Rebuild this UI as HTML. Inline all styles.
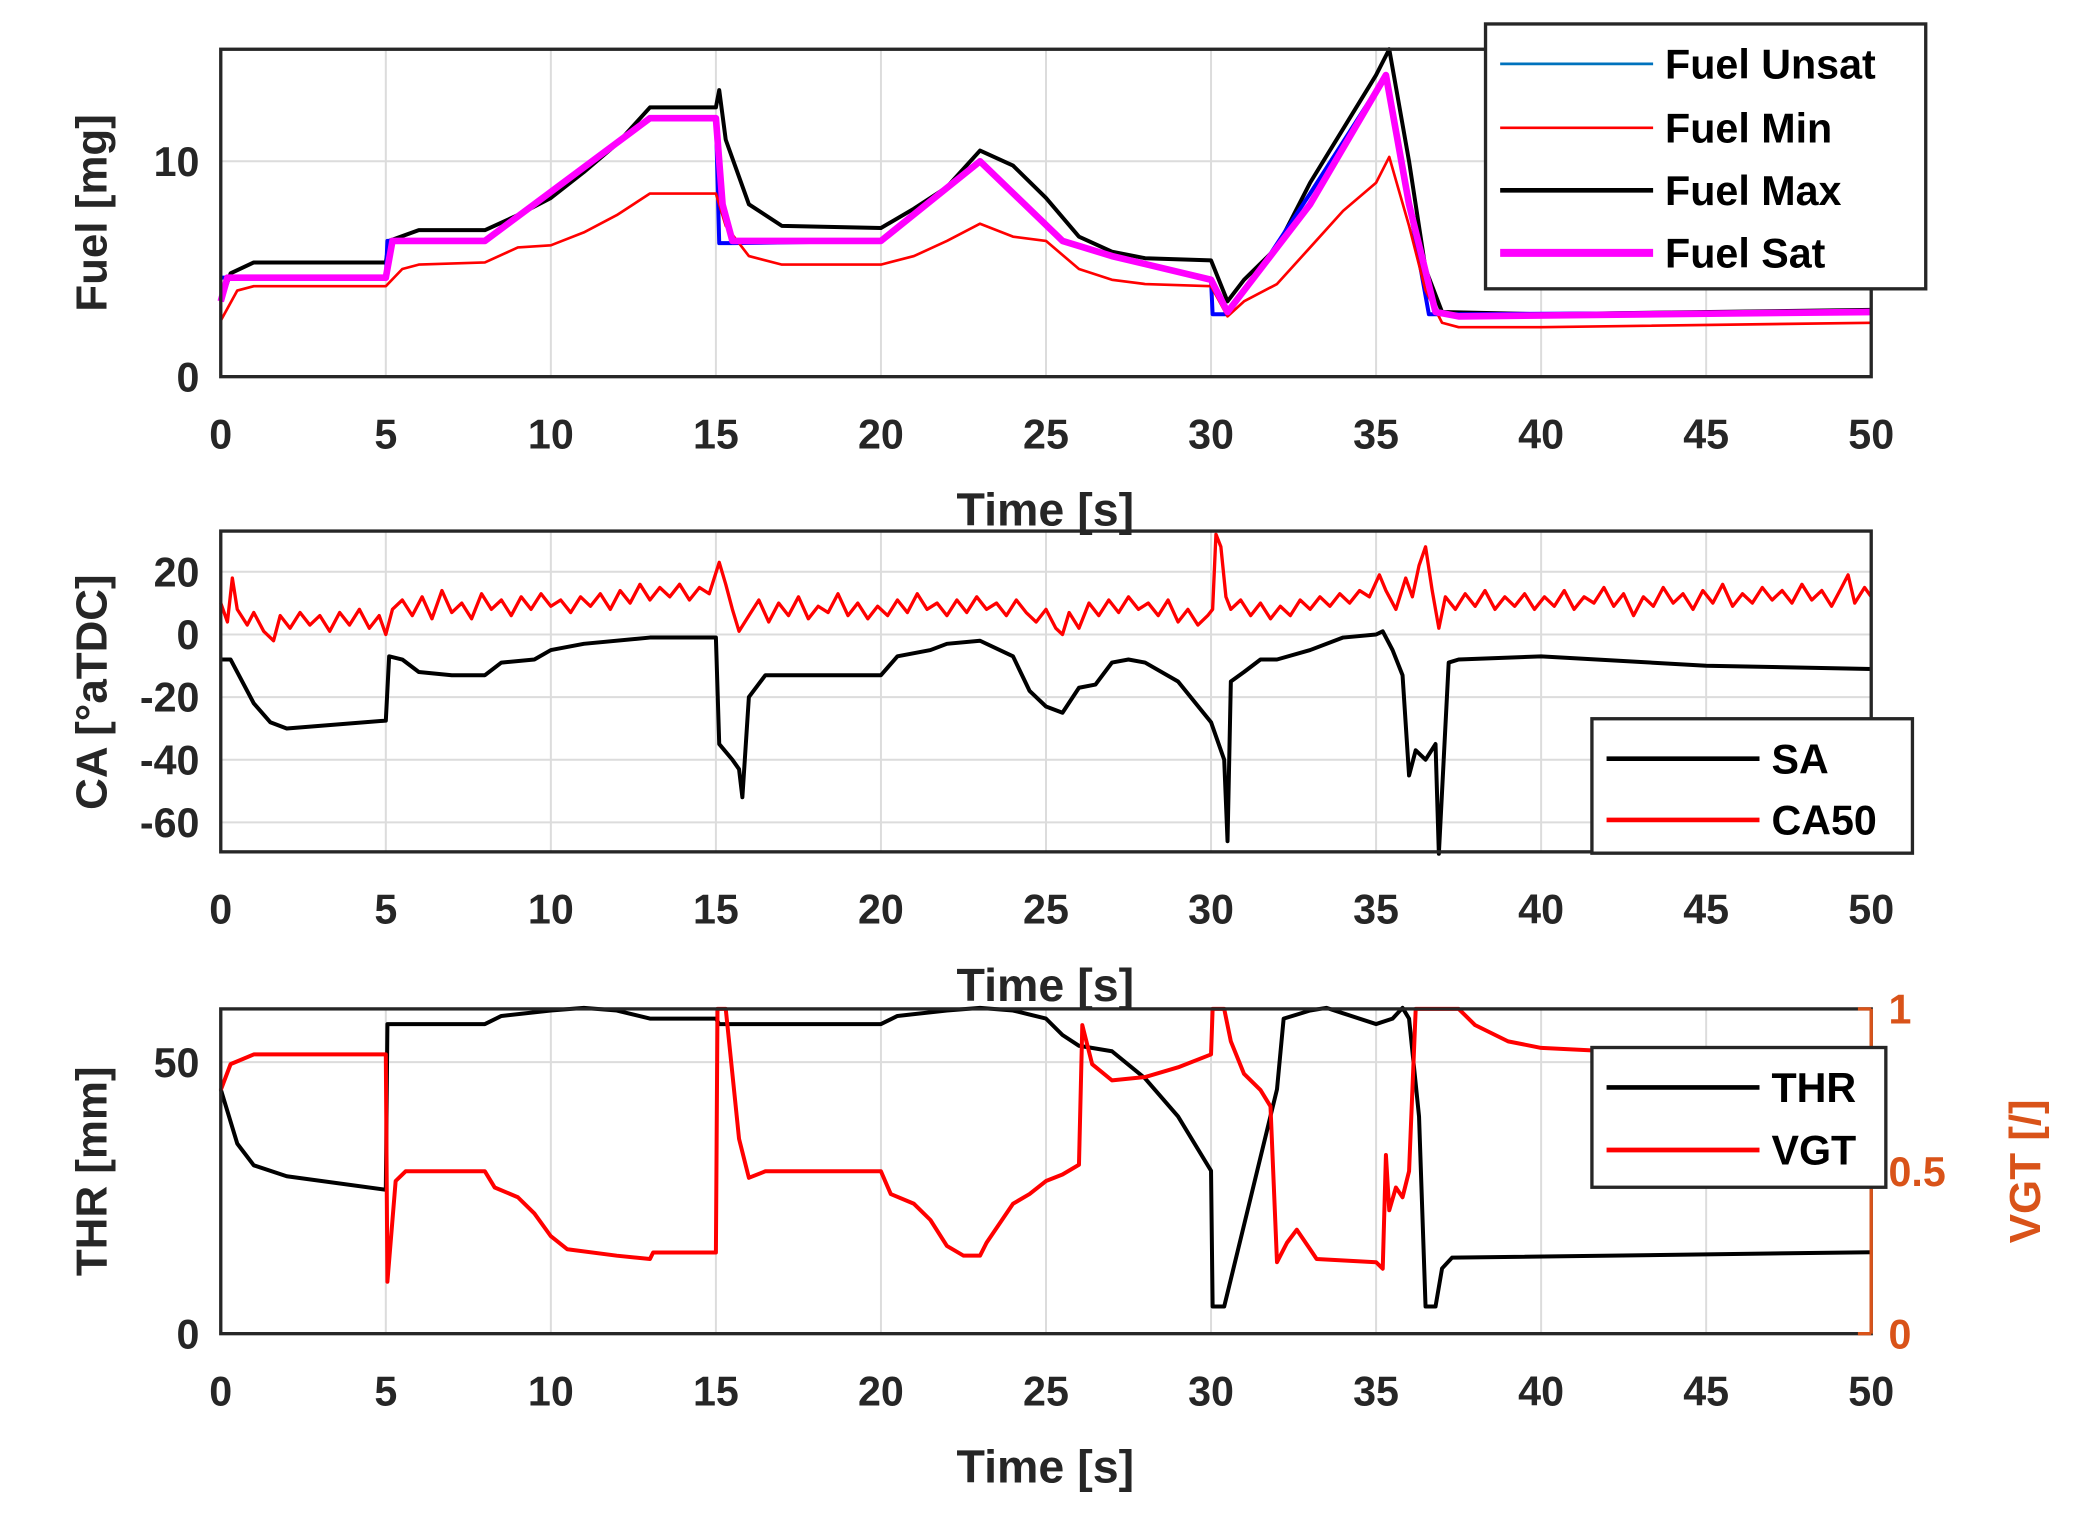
<!DOCTYPE html>
<html><head><meta charset="utf-8"><style>
html,body{margin:0;padding:0;background:#fff;}
svg{display:block;}
text{font-family:"Liberation Sans",Arial,sans-serif;font-weight:bold;fill:#262626;}
</style></head><body>
<svg id="fig" width="2084" height="1528" viewBox="0 0 1567 1148" preserveAspectRatio="none" xmlns="http://www.w3.org/2000/svg"></svg>
<script>
const xTicks=[0,5,10,15,20,25,30,35,40,45,50];
const fuelTicks=[0,10];
const caTicks=[20,0,-20,-40,-60];
const thrTicks=[0,50];
const vgtTicks=[0,0.5,1];

const fuelMax=[[0,3.5],[0.3,4.8],[1,5.3],[5,5.3],[5.1,6.3],[6,6.8],[8,6.8],[9,7.5],[10,8.3],[11,9.5],[12,10.8],[13,12.5],[15,12.5],[15.1,13.3],[15.3,11],[16,8],[17,7],[20,6.9],[21,7.8],[22,8.8],[23,10.5],[24,9.8],[25,8.3],[26,6.5],[27,5.8],[28,5.5],[30,5.4],[30.5,3.5],[31,4.5],[32,6],[33,9],[34,11.5],[35,14],[35.4,15.2],[36,10],[36.5,5],[37,3],[40,2.9],[50,3.1]];
const fuelUnsat=[[0,4.6],[5,4.6],[5.05,6.3],[8,6.3],[13,12],[15,12],[15.1,6.2],[15.5,6.2],[20,6.3],[23,10],[25.5,6.3],[27,5.6],[30,4.5],[30.05,2.9],[30.5,2.9],[31.5,5],[33,8.5],[35.3,14],[36,8],[36.6,2.9],[37.5,2.9],[50,3]];
const fuelMin=[[0,2.6],[0.5,4],[1,4.2],[5,4.2],[5.5,5],[6,5.2],[8,5.3],[9,6],[10,6.1],[11,6.7],[12,7.5],[13,8.5],[15,8.5],[15.3,7],[16,5.6],[17,5.2],[20,5.2],[21,5.6],[22,6.3],[23,7.1],[24,6.5],[25,6.3],[26,5],[27,4.5],[28,4.3],[30,4.2],[30.5,2.8],[31,3.5],[32,4.3],[33,6],[34,7.7],[35,9],[35.4,10.2],[36,7],[36.5,4],[37,2.5],[37.5,2.3],[40,2.3],[50,2.5]];
const fuelSat=[[0,3.5],[0.2,4.6],[5,4.6],[5.2,6.3],[8,6.3],[13,12],[15,12],[15.2,8],[15.5,6.3],[20,6.3],[23,10],[25.5,6.3],[27,5.6],[30,4.5],[30.5,3],[31.5,5],[33,8],[35.3,14],[36,8],[36.8,3],[37.5,2.8],[50,3]];

const saVals=[[0,-8],[0.3,-8],[1,-22],[1.5,-28],[2,-30],[5,-27.5],[5.1,-7],[5.5,-8],[6,-12],[7,-13],[8,-13],[8.5,-9],[9.5,-8],[10,-5],[11,-3],[13,-1],[15,-1],[15.1,-35],[15.5,-40],[15.7,-43],[15.8,-52],[16,-20],[16.5,-13],[20,-13],[20.5,-7],[21.5,-5],[22,-3],[23,-2],[24,-7],[24.5,-18],[25,-23],[25.5,-25],[26,-17],[26.5,-16],[27,-9],[27.5,-8],[28,-9],[29,-15],[30,-28],[30.4,-40],[30.5,-66],[30.6,-15],[31,-12],[31.5,-8],[32,-8],[33,-5],[34,-1],[35,0],[35.2,1],[35.5,-5],[35.8,-13],[36,-45],[36.2,-37],[36.5,-40],[36.8,-35],[36.9,-70],[37.2,-9],[37.5,-8],[40,-7],[45,-10],[50,-11]];
const ca50Vals=[[0,10],[0.2,4],[0.35,18],[0.5,8],[0.8,3],[1,7],[1.3,1],[1.6,-2],[1.8,6],[2.1,2],[2.4,7],[2.7,3],[3,6],[3.3,1],[3.6,7],[3.9,3],[4.2,8],[4.5,2],[4.8,6],[5,0],[5.2,8],[5.5,11],[5.8,6],[6.1,12],[6.4,5],[6.7,14],[7,7],[7.3,10],[7.6,5],[7.9,13],[8.2,8],[8.5,11],[8.8,6],[9.1,12],[9.4,8],[9.7,13],[10,9],[10.3,11],[10.6,7],[10.9,12],[11.2,9],[11.5,13],[11.8,8],[12.1,14],[12.4,10],[12.7,16],[13,11],[13.3,15],[13.6,12],[13.9,16],[14.2,11],[14.5,15],[14.8,13],[15.1,23],[15.3,16],[15.5,8],[15.7,1],[16,6],[16.3,11],[16.6,4],[16.9,10],[17.2,6],[17.5,12],[17.8,5],[18.1,9],[18.4,7],[18.7,13],[19,6],[19.3,10],[19.6,5],[19.9,9],[20.2,6],[20.5,11],[20.8,7],[21.1,13],[21.4,8],[21.7,10],[22,6],[22.3,11],[22.6,7],[22.9,12],[23.2,8],[23.5,10],[23.8,6],[24.1,11],[24.4,7],[24.7,4],[25,8],[25.3,2],[25.5,0],[25.7,7],[26,2],[26.3,10],[26.6,6],[26.9,11],[27.2,7],[27.5,12],[27.8,8],[28.1,10],[28.4,6],[28.7,11],[29,4],[29.3,8],[29.6,3],[29.9,6],[30.05,8],[30.15,32],[30.3,28],[30.45,12],[30.6,8],[30.9,11],[31.2,6],[31.5,10],[31.8,5],[32.1,9],[32.4,6],[32.7,11],[33,8],[33.3,12],[33.6,9],[33.9,13],[34.2,10],[34.5,14],[34.8,12],[35.1,19],[35.3,14],[35.6,8],[35.9,18],[36.1,12],[36.3,22],[36.5,28],[36.7,14],[36.9,2],[37.1,12],[37.4,8],[37.7,13],[38,9],[38.3,14],[38.6,8],[38.9,12],[39.2,9],[39.5,13],[39.8,8],[40.1,12],[40.4,9],[40.7,14],[41,8],[41.3,12],[41.6,10],[41.9,15],[42.2,9],[42.5,13],[42.8,6],[43.1,12],[43.4,9],[43.7,15],[44,10],[44.3,13],[44.6,8],[44.9,14],[45.2,10],[45.5,16],[45.8,9],[46.1,13],[46.4,10],[46.7,15],[47,11],[47.3,14],[47.6,10],[47.9,16],[48.2,11],[48.5,14],[48.8,9],[49.1,15],[49.3,19],[49.5,10],[49.8,15],[50,12]];

const thrVals=[[0,45],[0.5,35],[1,31],[2,29],[5,26.5],[5.05,57],[8,57],[8.5,58.5],[10,59.5],[11,60],[12,59.5],[13,58],[15,58],[15.1,57],[20,57],[20.5,58.5],[22,59.5],[23,60],[24,59.5],[25,58],[25.5,55],[26,53],[27,52],[28,47],[29,40],[30,30],[30.05,5],[30.4,5],[31,20],[32,45],[32.2,58],[33,59.5],[33.5,60],[34,59],[35,57],[35.5,58],[35.8,60],[36,58],[36.3,40],[36.5,5],[36.8,5],[37,12],[37.3,14],[50,15]];
const vgtVals=[[0,0.75],[0.3,0.83],[1,0.86],[5,0.86],[5.05,0.16],[5.3,0.47],[5.6,0.5],[8,0.5],[8.3,0.45],[9,0.42],[9.5,0.37],[10,0.3],[10.5,0.26],[12,0.24],[13,0.23],[13.1,0.25],[15,0.25],[15.05,1.0],[15.3,1.0],[15.7,0.6],[16,0.48],[16.5,0.5],[17,0.5],[20,0.5],[20.3,0.43],[21,0.4],[21.5,0.35],[22,0.27],[22.5,0.24],[23,0.24],[23.2,0.28],[24,0.4],[24.5,0.43],[25,0.47],[25.5,0.49],[26,0.52],[26.1,0.95],[26.4,0.83],[27,0.78],[28,0.79],[29,0.82],[30,0.86],[30.05,1.0],[30.4,1.0],[30.6,0.9],[31,0.8],[31.5,0.75],[31.8,0.7],[32,0.22],[32.3,0.28],[32.6,0.32],[33,0.26],[33.2,0.23],[35,0.22],[35.2,0.2],[35.3,0.55],[35.4,0.38],[35.6,0.45],[35.8,0.42],[36,0.5],[36.2,1.0],[37.5,1.0],[38,0.95],[39,0.9],[40,0.88],[44,0.86],[50,0.86]];

const NS='http://www.w3.org/2000/svg';
const svg=document.getElementById('fig');
function mk(tag,attrs,parent){const e=document.createElementNS(NS,tag);for(const k in attrs)e.setAttribute(k,attrs[k]);(parent||svg).appendChild(e);return e;}
const X0=166,X1=1407;
const xs=t=>X0+(X1-X0)*t/50;
function lin(d0,d1,p0,p1){return v=>p0+(v-d0)*(p1-p0)/(d1-d0);}

function panel(name,top,bot,ymin,ymax,yticks,hgrid,title,titleY){
  const ys=lin(ymin,ymax,bot,top);
  const g=mk('g',{});
  
  
  xTicks.forEach(t=>{mk('line',{x1:xs(t),x2:xs(t),y1:top,y2:bot,stroke:'#dcdcdc','stroke-width':1.5},g);});
  hgrid.forEach(v=>{mk('line',{x1:X0,x2:X1,y1:ys(v),y2:ys(v),stroke:'#dcdcdc','stroke-width':1.5},g);});
  yticks.forEach(v=>{const t=mk('text',{x:X0-16,y:ys(v)+11,'text-anchor':'end','font-size':31},g);t.textContent=v;
    });
  xTicks.forEach(v=>{const t=mk('text',{x:xs(v),y:bot+54,'text-anchor':'middle','font-size':31},g);t.textContent=v;
    });
  const yt=mk('text',{x:0,y:0,'text-anchor':'middle','font-size':33,transform:`translate(80,${titleY}) rotate(-90)`},g);yt.textContent=title;
  
  const xt=mk('text',{x:786,y:bot+112,'text-anchor':'middle','font-size':35},g);xt.textContent='Time [s]';
  
  return {g,ys,top,bot};
}
function series(p,data,color,w,name,ys){
  const f=ys||p.ys;
  const d=data.map((pt,i)=>(i?'L':'M')+xs(pt[0]).toFixed(1)+' '+f(pt[1]).toFixed(1)).join('');
  const e=mk('path',{d,fill:'none',stroke:color,'stroke-width':w,'stroke-linejoin':'round'},p.g);
  
  
}
function frame(p,rightColor){
  mk('rect',{x:X0,y:p.top,width:X1-X0,height:p.bot-p.top,fill:'none',stroke:'#262626','stroke-width':2.5},p.g);
  if(rightColor)mk('line',{x1:X1,x2:X1,y1:p.top,y2:p.bot,stroke:rightColor,'stroke-width':2.5},p.g);
}
function legend(name,x,y,w,h,items,lx1,lx2,tx){
  const g=mk('g',{});
  
  
  mk('rect',{x,y,width:w,height:h,fill:'#fff',stroke:'#262626','stroke-width':2.5},g);
  items.forEach(it=>{
    mk('line',{x1:lx1,x2:lx2,y1:it.y,y2:it.y,stroke:it.c,'stroke-width':it.w},g);
    const t=mk('text',{x:tx,y:it.y+11,'font-size':31,style:'fill:#000'},g);t.textContent=it.l;
    
  });
}

const p1=panel('fuel-panel',37,283,0,15.2,fuelTicks,[10],'Fuel [mg]',160);
series(p1,fuelMax,'#000',3,'fuel-max-line');
series(p1,fuelUnsat,'#0000ff',3,'fuel-unsat-line');
series(p1,fuelMin,'#ff0000',2,'fuel-min-line');
series(p1,fuelSat,'#ff00ff',5,'fuel-sat-line');
frame(p1);
legend('fuel-legend',1117,18,331,199,[{y:48,c:'#0072BD',w:2,l:'Fuel Unsat'},{y:96,c:'#ff0000',w:2,l:'Fuel Min'},{y:143,c:'#000',w:3.5,l:'Fuel Max'},{y:190,c:'#ff00ff',w:6,l:'Fuel Sat'}],1128,1243,1252);

const p2=panel('ca-panel',399,640,-69.4,33,caTicks,[20,0,-20,-40,-60],'CA [°aTDC]',520);
series(p2,saVals,'#000',3,'sa-line');
series(p2,ca50Vals,'#ff0000',2.5,'ca50-line');
frame(p2);
legend('ca-legend',1197,540,241,101,[{y:570,c:'#000',w:3.5,l:'SA'},{y:616,c:'#ff0000',w:3.5,l:'CA50'}],1208,1323,1332);

const p3=panel('thr-vgt-panel',758,1002,0,59.8,thrTicks,[50],'THR [mm]',880);
const vs=lin(0,1,1002,758);
series(p3,thrVals,'#000',3,'thr-line');
series(p3,vgtVals,'#ff0000',3,'vgt-line',vs);
frame(p3,'#D95319');
vgtTicks.forEach(v=>{const t=mk('text',{x:1420,y:vs(v)+11,'font-size':31,style:'fill:#D95319'},p3.g);t.textContent=v;
  
  mk('line',{x1:X1-10,x2:X1,y1:vs(v),y2:vs(v),stroke:'#D95319','stroke-width':2.5},p3.g);});
const rt=mk('text',{x:0,y:0,'text-anchor':'middle','font-size':33,style:'fill:#D95319',transform:'translate(1534,880) rotate(-90)'},p3.g);rt.textContent='VGT [/]';

legend('thr-vgt-legend',1197,787,221,105,[{y:817,c:'#000',w:3.5,l:'THR'},{y:864,c:'#ff0000',w:3.5,l:'VGT'}],1208,1323,1332);
</script>
</body></html>
